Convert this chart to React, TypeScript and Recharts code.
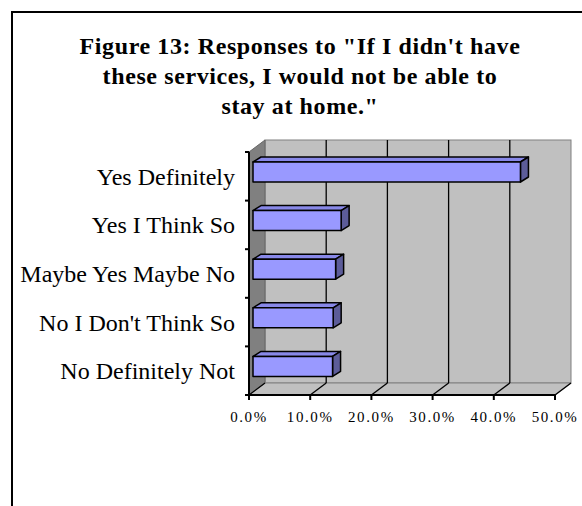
import { Bar, BarChart, CartesianGrid, ReferenceArea, XAxis, YAxis } from 'recharts';

// ── data ──────────────────────────────────────────────────────────────
const categories = [
  'Yes Definitely',
  'Yes I Think So',
  'Maybe Yes Maybe No',
  "No I Don't Think So",
  'No Definitely Not',
];
const percentages = [43.7, 14.4, 13.5, 13.1, 13.0];
const xTicks = [0, 10, 20, 30, 40, 50];
const titleLines = [
  'Figure 13: Responses to "If I didn\'t have',
  'these services, I would not be able to',
  'stay at home."',
];

const data = categories.map((name, i) => ({ name, pct: percentages[i] }));

// ── 3D look ───────────────────────────────────────────────────────────
const SERIF = '"Liberation Serif", "Times New Roman", serif';
const DX = 16; // wall depth
const DY = -12;
const PLOT_TOP = 152;
const PLOT_H = 243;

function scaleOf(axis: any) {
  const s = axis?.scale;
  if (typeof s === 'function') return s;
  if (s && typeof s.map === 'function') return (v: number) => s.map(v);
  return () => 0;
}

function Walls(props: any) {
  const { x, y, width, height } = props;
  const bottom = y + height;
  const right = x + width;
  return (
    <g>
      <rect x={x + DX} y={y + DY} width={width} height={height} fill="#c0c0c0" stroke="#808080" />
      <polygon
        points={`${x},${y} ${x + DX},${y + DY} ${x + DX},${bottom + DY} ${x},${bottom}`}
        fill="#808080"
        stroke="#666"
      />
      <polygon
        points={`${x},${bottom} ${x + DX},${bottom + DY} ${right + DX},${bottom + DY} ${right},${bottom}`}
        fill="#c0c0c0"
        stroke="#808080"
      />
    </g>
  );
}

function Bar3D(props: any) {
  const { x, y, width, height } = props;
  const fx = x + 4;
  const fy = y - 4;
  const bx = 8;
  const by = -5;
  return (
    <g stroke="#000" strokeWidth={1.5} strokeLinejoin="round">
      <polygon
        points={`${fx},${fy} ${fx + bx},${fy + by} ${fx + width + bx},${fy + by} ${fx + width},${fy}`}
        fill="#8888e8"
      />
      <polygon
        points={`${fx + width},${fy} ${fx + width + bx},${fy + by} ${fx + width + bx},${fy + height + by} ${fx + width},${fy + height}`}
        fill="#5c5c99"
      />
      <rect x={fx} y={fy} width={width} height={height} fill="#9999ff" />
    </g>
  );
}

function CategoryTick(props: any) {
  const { x, y, payload, index } = props;
  const half = payload?.offset || PLOT_H / categories.length / 2;
  const lineX = x + 10;
  return (
    <g>
      <line x1={lineX} x2={lineX + 4} y1={y - half} y2={y - half} stroke="#000" strokeWidth={2} />
      {index === categories.length - 1 && (
        <line x1={lineX} x2={lineX + 4} y1={y + half} y2={y + half} stroke="#000" strokeWidth={2} />
      )}
      <text x={x} y={y} dy="0.355em" textAnchor="end" fontFamily={SERIF} fontSize={24} fill="#000">
        {payload.value}
      </text>
    </g>
  );
}

function PercentTick(props: any) {
  const { x, y, payload } = props;
  const axisY = y - 5;
  return (
    <g>
      <line x1={x} x2={x + DX} y1={axisY} y2={axisY + DY} stroke="#000" strokeWidth={1.3} />
      <line x1={x} x2={x} y1={axisY} y2={axisY + 5} stroke="#000" strokeWidth={2} />
      <text x={x} y={axisY + 27} textAnchor="middle" fontFamily={SERIF} fontSize={15} letterSpacing={1.6} fill="#000">
        {payload.value.toFixed(1) + '%'}
      </text>
    </g>
  );
}

export default function App() {
  return (
    <div style={{ position: 'absolute', left: 0, top: 0, width: 582, height: 506, overflow: 'hidden', background: '#fff' }}>
      <div
        style={{
          position: 'absolute',
          left: 11,
          top: 11,
          width: 571,
          height: 495,
          boxSizing: 'border-box',
          borderLeft: '2px solid #000',
          borderTop: '2px solid #000',
        }}
      />
      <div
        style={{
          position: 'absolute',
          left: 40,
          top: 31,
          width: 520,
          textAlign: 'center',
          fontFamily: SERIF,
          fontWeight: 'bold',
          fontSize: 24,
          lineHeight: '30px',
          letterSpacing: 0.6,
        }}
      >
        {titleLines.map((l) => (
          <div key={l}>{l}</div>
        ))}
      </div>
      <div style={{ position: 'absolute', left: 0, top: 0 }}>
        <BarChart
          width={582}
          height={506}
          data={data}
          layout="vertical"
          margin={{ top: 152, right: 27, bottom: 81, left: 9 }}
        >
          <ReferenceArea x1={0} x2={50} ifOverflow="visible" zIndex={-200} shape={(p: any) => <Walls {...p} />} />
          <CartesianGrid
            horizontal={false}
            stroke="#000"
            strokeWidth={1.3}
            fill="none"
            y={PLOT_TOP + DY}
            height={PLOT_H}
            verticalCoordinatesGenerator={({ xAxis }: any) =>
              xTicks.slice(1, -1).map((v) => scaleOf(xAxis)(v) + DX)
            }
          />
          <XAxis
            type="number"
            domain={[0, 50]}
            ticks={xTicks}
            interval={0}
            height={30}
            tickSize={5}
            tickMargin={0}
            tickLine={false}
            axisLine={{ stroke: '#000', strokeWidth: 2 }}
            tick={<PercentTick />}
          />
          <YAxis
            type="category"
            dataKey="name"
            width={240}
            interval={0}
            tickSize={4}
            tickMargin={10}
            tickLine={false}
            axisLine={{ stroke: '#000', strokeWidth: 2 }}
            tick={<CategoryTick />}
          />
          <Bar dataKey="pct" barSize={20} isAnimationActive={false} shape={(p: any) => <Bar3D {...p} />} />
        </BarChart>
      </div>
    </div>
  );
}
